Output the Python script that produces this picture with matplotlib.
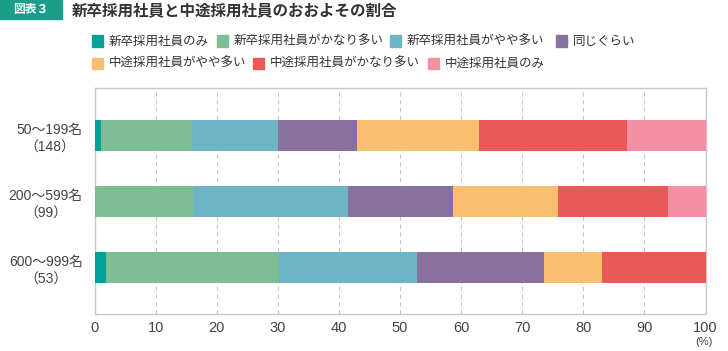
import matplotlib
matplotlib.use("Agg")
import matplotlib.pyplot as plt
from matplotlib.patches import Rectangle
import numpy as np

plt.rcParams['font.family'] = ['Noto Sans CJK JP', 'DejaVu Sans']
latin = ['Liberation Sans', 'Noto Sans CJK JP']

groups = ['50～199名\n（148）', '200～599名\n（99）', '600～999名\n（53）']
series = ['新卒採用社員のみ', '新卒採用社員がかなり多い', '新卒採用社員がやや多い', '同じぐらい',
          '中途採用社員がやや多い', '中途採用社員がかなり多い', '中途採用社員のみ']
colors = ['#00a199', '#7dbe95', '#6db4c4', '#89719e', '#f7bf6f', '#e85958', '#f58fa3']

values = [
    [1.1, 0.0, 1.9],     # 新卒のみ
    [14.9, 16.2, 28.3],  # 新卒がかなり多い
    [14.0, 25.3, 22.6],  # 新卒がやや多い
    [13.0, 17.1, 20.8],  # 同じぐらい
    [20.0, 17.2, 9.4],   # 中途がやや多い
    [24.1, 18.1, 17.0],  # 中途がかなり多い
    [12.9, 6.1, 0.0],    # 中途のみ
]

W, H = 728, 351
fig = plt.figure(figsize=(W / 100, H / 100), dpi=100)
ax = fig.add_axes([94.5 / W, (H - 314) / H, 611 / W, 226 / H])

y = np.arange(len(groups))
left = np.zeros(len(groups))
for vals, c in zip(values, colors):
    ax.barh(y, vals, left=left, height=0.47, color=c, zorder=3)
    left += np.array(vals)

ax.set_xlim(0, 100)
ax.set_ylim(2.705, -0.715)
ax.set_xticks(range(0, 101, 10))
ax.set_xticklabels([str(v) for v in range(0, 101, 10)], family=latin, fontsize=10.5)
ax.set_yticks(y)
ax.set_yticklabels(groups, multialignment='center', family=latin, fontsize=10,
                   linespacing=1.35)
ax.tick_params(axis='both', length=0, colors='#444444')
ax.tick_params(axis='y', pad=8.5)
ax.tick_params(axis='x', pad=5)
ax.grid(axis='x', color='#c8c8c8', linestyle=(0, (4, 3)), linewidth=0.8, zorder=0)
for s in ax.spines.values():
    s.set_color('#c8c8c8')
    s.set_linewidth(1)

fig.text(704 / W, 1 - 342 / H, '(%)', fontsize=8, color='#444444', ha='center', va='center',
         family=latin)

# header
fig.patches.append(Rectangle((0, 1 - 19 / H), 62 / W, 19 / H, transform=fig.transFigure,
                             color='#1a9e8c', zorder=1))
fig.text(31 / W, 1 - 9.5 / H, '図表３', fontsize=8.5, fontweight='bold', color='white',
         ha='center', va='center')
fig.text(72 / W, 1 - 10 / H, '新卒採用社員と中途採用社員のおおよその割合', fontsize=11.2,
         fontweight='bold', color='#333333', ha='left', va='center')

# legend
leg_pos = [(92, 41), (217, 41), (390, 41), (556, 41), (92, 63.5), (253, 63.5), (428, 63.5)]
for (lx, ly), name, c in zip(leg_pos, series, colors):
    fig.patches.append(Rectangle((lx / W, 1 - (ly + 5.5) / H), 11 / W, 11 / H,
                                 transform=fig.transFigure, color=c))
    fig.text((lx + 17) / W, 1 - ly / H, name, fontsize=9, color='#333333', ha='left', va='center')

fig.savefig('out.png', dpi=100)
